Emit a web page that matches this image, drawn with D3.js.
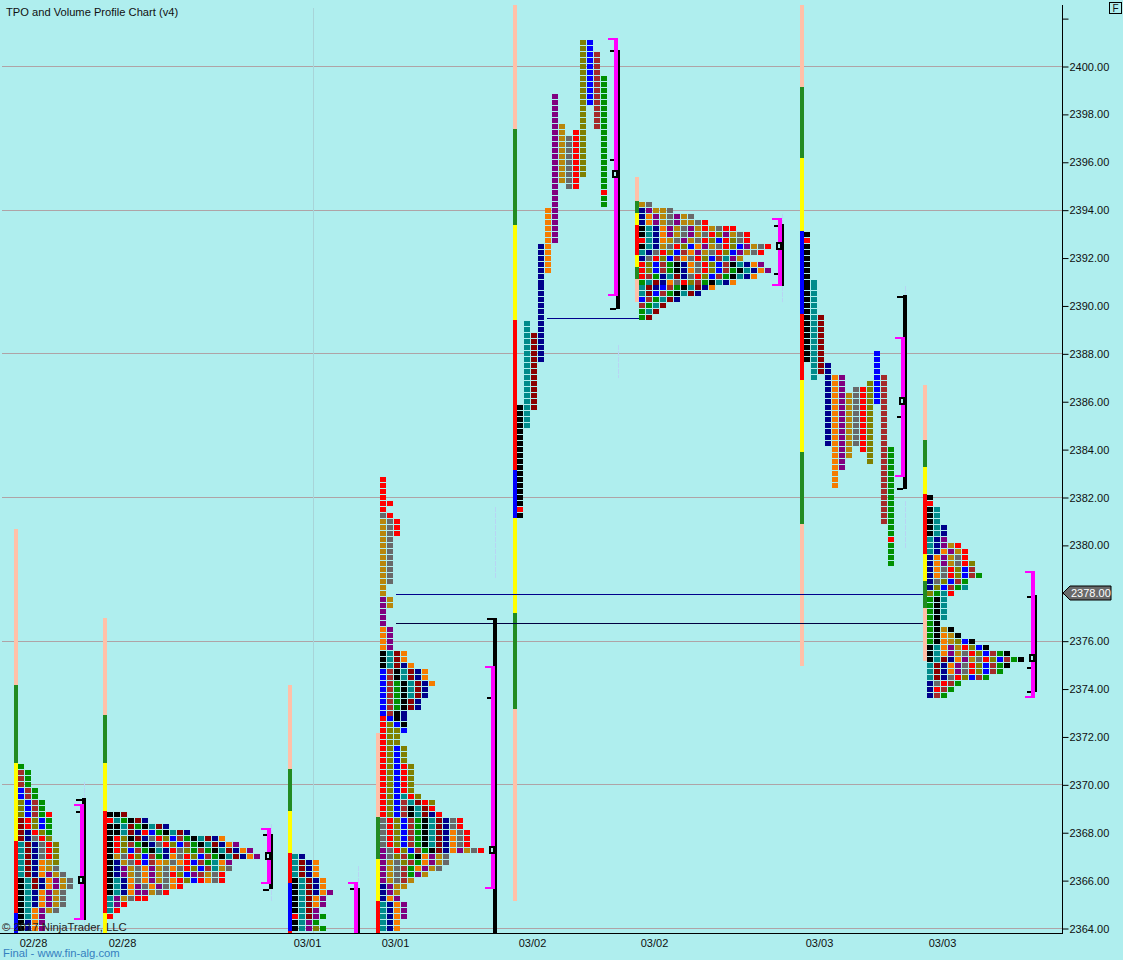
<!DOCTYPE html>
<html><head><meta charset="utf-8">
<script src="https://cdn.jsdelivr.net/npm/d3@7"></script>
<style>html,body{margin:0;padding:0;background:#AFEEEE;overflow:hidden}svg{display:block}text{font-family:"Liberation Sans",Arial,sans-serif}</style>
</head><body><svg id="c" width="1123" height="960"></svg>
<script>
// ---------- DATA ----------
const sessionDates = ["02/28","02/28","03/01","03/01","03/02","03/02","03/03","03/03"];
const sessionBars = [2.571,15.286,41.714,54.286,73.857,91.286,114.857,132.429];
const priceTicks = [2400,2398,2396,2394,2392,2390,2388,2386,2384,2382,2380,2378,2376,2374,2372,2370,2368,2366,2364];
const gridPrices = [2400,2394,2388,2382,2376,2370,2364];
const lastPrice = 2378;

// letter codes -> period colours
const periodColors = {k:"#000000",t:"#008B8B",m:"#8B0000",n:"#00008B",o:"#F57C00",p:"#800080",G:"#B8860B",y:"#696969",r:"#FF0000",O:"#808000",b:"#0000FF",B:"#A52A2A",g:"#009000"};
const barColors = {P:"#FFC0A8",F:"#228B22",Y:"#FFFF00",R:"#FF0000",U:"#0000FF"};

// side bars: colour runs and their price stops
const sideColors = ["PFYRU","PFYRY","PFYRUR","PFYR","PFYRUYFP","PFYRYFP","PFYURYFP","PFYRYFP"];
const sideStops = [
 [2380.68,2374.17,2370.91,2367.65,2364.65,2363.52],
 [2376.97,2372.92,2370.91,2368.91,2364.65,2363.52],
 [2374.17,2370.66,2368.91,2367.15,2365.90,2363.90,2363.52],
 [2372.16,2368.66,2366.90,2365.15,2363.52],
 [2402.57,2397.39,2393.38,2389.41,2383.15,2381.14,2377.18,2373.17,2365.15],
 [2395.39,2394.38,2393.88,2393.38,2392.13,2391.63,2391.13,2390.16],
 [2402.57,2399.14,2396.18,2393.13,2389.66,2386.91,2383.90,2380.89,2374.96],
 [2386.70,2384.40,2383.27,2382.15,2379.64,2378.51,2377.38,2375.17]
];

// stacked profiles: highest price, then one string per 0.25 row
const profile0Top = 2370.75;
const profile0 = ["g","Bg","Bg","Bg","bBg","bBg","ObBg","ObBg","ObBgr","mrObg","mrObg","mnrOg","mnyrO","tmnyrO","tmnyrO","tmnyrO","tmnoGO","tmnoGy","tmnopGy","ktmnopGy","ktmnopGy","ktnopGy","ktnopGy","ktnopGy","ktopGy","ktop","knop","knop"];
const profile1Top = 2368.75;
const profile1 = ["kkm","rtgkmn","kktmgktmn","kktmnrbgktmn","krOkmnyrObBgktmno","krOBgknyrObBgktmnop","krObBgktnryOgBgktmnop","kGyrObBgnoyrObBgktmnop","knGyrbBoGyorbBgtop","knpGyopGyoyrObBtGy","knpGyopGyrObpBGyr","ktnoyopGyorObroyr","ktnopyopyor","ktnoppGyr","tpGyrr","tpr","tr","r"];
const profile2Top = 2367;
const profile2 = ["tn","tmno","tmno","tmno","ktmno","ktmno","ktmnop","ktmop","ktmop","ktmp","rtmpg","ktpg","ktpOg"];
const profile3Top = 2382.75;
const profile3 = ["r","r","r","r","rr","r","yr","Gyr","Gyr","Gyr","Gy","Gy","Gy","Gy","Gy","Gy","Gy","Gy","G","G","pG","pG","p","p","p","op","op","op","op","ktmo","ktmo","ktmno","bBktmno","bBktmno","bBgktmno","bBgktmn","bBgktmn","bBgkmn","bBgkmn","bBkn","rbkn","rObk","rOOb","rOO","rOO","rObO","rObO","rObO","rObrO","rObrO","rObrO","rObrO","rObrO","rObtrO","rObBtmrO","rObBktmr","rObBktmnr","yrObBgktmnyr","yrObBgktmnyr","yrObBgktmnoyr","yrObBgktmnoyr","yrObBgktmnoyr","pyrObBgkmnopGyr","pyOBgkopGy","pGyOBgopGy","pGyBgopGy","pGyBgpG","pGyBG","npGG","npG","nop","tnop","tnop","tnop","tno","tno"];
const profile5Top = 2394.25;
const profile5 = ["Gy","npGGy","nopGypGy","nopGypGGyr","ktnopGypGrGyrr","ktnopGypGyrOpGyr","rtnoGypGyrObrOyr","ktnGyrObopGyrObpGyr","tnyrObBopGyrObpGyr","nyrObBoyrObBtpG","rObBgknoyrObBktnop","rObBgknoyrObBgktnop","rBgntmnyrObBgktno","gtmnoyrOBgktno","tmnbBgktmno","tmbBgktmn","bBgtmn","Bgtm","gtm","gm"];
const profile7Top = 2382;
const profile7 = ["k","r","kt","kt","kt","ktn","ktn","tnp","tnpGr","tnopGr","nopGyr","nopGyrO","noyrObB","noyrObBg","nyObBg","nObBgt","Ogtr","gkt","gkt","gkt","gkt","gk","gkGk","gkoGk","gkoGObk","ktopGrObk","ktopGyrObBgk","ktmnopGyrObBgk","tmnopyrObBgk","tmnopyrObBg","tmnyrObBg","nyrBg","nrBg","nBg"];

// split profiles: one period per column
const splitCodes = ["k","t","m","n","o","p","G","y","r","O","b","B","g"];
const split4High = [2385.75,2389.25,2388.75,2392.5,2394,2398.75,2397.5,2397,2397.25,2401,2401,2400.5,2399.5];
const split4Low  = [2381.25,2385,2385.75,2387.75,2391.5,2392.75,2395.25,2395,2395,2395.5,2398.5,2397.5,2394.25];
const split4Red  = [[0,2381.5],[12,2394.75]];
const split6High = [2393,2391,2389.5,2387.5,2387,2387,2386.25,2386.5,2386.5,2386.75,2388,2387,2384];
const split6Low  = [2387.75,2387,2387.25,2384.25,2382.5,2383.25,2383.75,2384.25,2384,2383.5,2386,2381,2379.25];
const split6Red  = [[0,2392.75],[12,2380.25]];

// session brackets
const bracketBars = [11.429,38.143,50.571,70.143,87.714,111.143,128.714,147.286];
const rangeHigh = [2369.45,2367.94,2365.69,2376.97,2400.69,2393.42,2390.46,2377.93];
const rangeLow  = [2364.36,2365.65,2363.52,2363.52,2389.87,2390.83,2382.36,2373.88];
const vaHigh    = [2369.20,2368.19,2365.94,2374.96,2401.19,2393.67,2388.70,2378.93];
const vaLow     = [2364.36,2365.86,2363.52,2365.65,2390.42,2390.83,2382.86,2373.63];
const pocPrice  = [2366.03,2367.03,null,2367.28,2395.51,2392.50,2386.03,2375.30];
const rangeTicks = [[2369.41,2368.91],[2367.94,2365.65],[2365.69],[2376.97,2373.67],[2400.69,2396.14,2389.91],[2393.38,2391.38],[2390.42,2385.40,2382.40],[2377.89,2374.92,2373.92]];

// faint dashed volume stems: session, high, low
const stemSession = [0,1,2,3,4,5,6,6];
const stemHigh = [2370.12,2368.36,2366.61,2381.60,2388.37,2393.84,2390.83,2381.85];
const stemLow  = [2363.94,2365.15,2363.81,2378.64,2386.99,2390.16,2388.58,2379.89];

// naked POC lines: from bar, to bar, price
const nakedFrom = [78.14,56.57,56.57];
const nakedTo = [91.29,131.86,131.86];
const nakedPrice = [2389.47,2377.94,2376.72];
const nakedColor = ["#00008B","#00008B","#000040"];
const timeMarkerBar = 44.71;

// ---------- SCALES ----------
const svg = d3.select("#c");
const bg = "#AFEEEE";
const plotW = 1062, plotBottom = 933;
const x = d3.scaleLinear().domain([0,151.714]).range([0,plotW]);
const y = d3.scaleLinear().domain([2400,2364]).range([66.5,928.5]);
const px = b => Math.round(x(b));
const snap = p => Math.floor(y(p));

svg.append("rect").attr("width",1123).attr("height",960).attr("fill",bg);
svg.append("defs").append("clipPath").attr("id","plot").append("rect").attr("x",0).attr("y",0).attr("width",plotW).attr("height",plotBottom);
const plot = svg.append("g").attr("clip-path","url(#plot)");

// grid
plot.selectAll(".grid").data(gridPrices).join("rect").attr("class","grid")
  .attr("x",2).attr("width",plotW-2).attr("y",d=>snap(d)).attr("height",1).attr("fill","#AFA3A6");
plot.append("rect").attr("x",px(timeMarkerBar)).attr("y",8).attr("width",1).attr("height",plotBottom-8).attr("fill","#A8D4D8");

// side bars
sessionBars.forEach((b,i)=>{
  const stops = sideStops[i], cols = sideColors[i].split("");
  plot.selectAll(".side"+i).data(cols).join("rect").attr("class","side"+i)
    .attr("x",px(b)-4).attr("width",4)
    .attr("y",(d,j)=>Math.round(y(stops[j])))
    .attr("height",(d,j)=>Math.round(y(stops[j+1]))-Math.round(y(stops[j])))
    .attr("fill",d=>barColors[d]);
});

// TPO cells
function cells(session, list){
  plot.append("g").selectAll("rect").data(list).join("rect")
    .attr("x",d=>px(sessionBars[session])+Math.round(x(d.col)))
    .attr("y",d=>snap(d.price)-2).attr("width",6).attr("height",5)
    .attr("fill",d=>periodColors[d.code]);
}
function fromRows(top,rows){
  const out=[];
  rows.forEach((s,r)=>s.split("").forEach((code,col)=>out.push({col,code,price:top-r*0.25})));
  return out;
}
function fromSplit(high,low,red){
  const out=[];
  splitCodes.forEach((code,col)=>{
    for(let p=high[col];p>=low[col];p-=0.25){
      const isRed=red.some(e=>e[0]===col&&e[1]===p);
      out.push({col,code:isRed?"r":code,price:p});
    }
  });
  return out;
}
cells(0,fromRows(profile0Top,profile0));
cells(1,fromRows(profile1Top,profile1));
cells(2,fromRows(profile2Top,profile2));
cells(3,fromRows(profile3Top,profile3));
cells(4,fromSplit(split4High,split4Low,split4Red));
cells(5,fromRows(profile5Top,profile5));
cells(6,fromSplit(split6High,split6Low,split6Red));
cells(7,fromRows(profile7Top,profile7));

// naked POC
plot.selectAll(".naked").data(nakedPrice).join("rect").attr("class","naked")
  .attr("x",(d,i)=>px(nakedFrom[i])).attr("width",(d,i)=>px(nakedTo[i])-px(nakedFrom[i]))
  .attr("y",d=>snap(d)).attr("height",1).attr("fill",(d,i)=>nakedColor[i]);

// stems
plot.selectAll(".stem").data(stemSession).join("line").attr("class","stem")
  .attr("x1",(d,i)=>px(bracketBars[d])+4.5).attr("x2",(d,i)=>px(bracketBars[d])+4.5)
  .attr("y1",(d,i)=>y(stemHigh[i])).attr("y2",(d,i)=>y(stemLow[i]))
  .attr("stroke","#B8D4F4").attr("stroke-width",1).attr("stroke-dasharray","5 1");

// brackets
bracketBars.forEach((b,i)=>{
  const M=px(b), g=plot.append("g");
  const by0=Math.round(y(rangeHigh[i])), by1=Math.round(y(rangeLow[i]));
  g.append("rect").attr("x",M+2).attr("y",by0).attr("width",4).attr("height",by1-by0).attr("fill","#000");
  g.selectAll(".t").data(rangeTicks[i]).join("rect").attr("class","t")
    .attr("x",M-4).attr("width",6).attr("y",d=>Math.round(y(d))).attr("height",2).attr("fill","#000");
  const vy0=Math.round(y(vaHigh[i])), vy1=Math.round(y(vaLow[i]));
  g.append("rect").attr("x",M).attr("y",vy0).attr("width",4).attr("height",vy1-vy0).attr("fill","#FF00FF");
  g.append("rect").attr("x",M-6).attr("y",vy0).attr("width",6).attr("height",2).attr("fill","#FF00FF");
  g.append("rect").attr("x",M-6).attr("y",vy1-2).attr("width",6).attr("height",2).attr("fill","#FF00FF");
  if(pocPrice[i]!==null){
    const py=Math.round(y(pocPrice[i]));
    g.append("rect").attr("x",M-2).attr("y",py-4).attr("width",8).attr("height",8).attr("fill","#000");
    g.append("rect").attr("x",M).attr("y",py-2).attr("width",2).attr("height",4).attr("fill",bg);
  }
});

// axes
const axisY = d3.axisRight(y).tickValues(priceTicks.concat([2402])).tickSize(6).tickPadding(1)
  .tickFormat(d=>d===2402?"":d3.format(".2f")(d));
const gy = svg.append("g").attr("transform",`translate(${plotW+0.5},0)`).call(axisY);
gy.select(".domain").remove();
gy.selectAll("line").attr("stroke","#000");
gy.selectAll("text").attr("fill","#101010").attr("font-size",11).attr("font-family","Liberation Sans, Arial, sans-serif");
svg.append("rect").attr("x",plotW).attr("y",5).attr("width",1).attr("height",plotBottom-5).attr("fill","#000");
svg.append("rect").attr("x",0).attr("y",plotBottom).attr("width",plotW+1).attr("height",1).attr("fill","#000");

// bottom dates
svg.selectAll(".date").data(sessionDates).join("text").attr("class","date")
  .attr("x",(d,i)=>px(sessionBars[i])+15.5).attr("y",947).attr("text-anchor","middle")
  .attr("font-size",11).attr("fill","#101010").text(d=>d);

// price tag
const tagY=snap(lastPrice);
svg.append("path").attr("d",d3.line()([[1063,tagY],[1070,tagY-7],[1111,tagY-7],[1111,tagY+7],[1070,tagY+7],[1063,tagY]])+"Z")
  .attr("fill","#696969").attr("stroke","#000").attr("stroke-width",1);
svg.append("text").attr("x",1071).attr("y",tagY+4).attr("font-size",11).attr("fill","#fff").text(d3.format(".2f")(lastPrice));

// texts
svg.append("text").attr("x",6).attr("y",16).attr("font-size",11.15).attr("fill","#111").text("TPO and Volume Profile Chart (v4)");
svg.append("text").attr("x",2).attr("y",931).attr("font-size",11.3).attr("fill","#222").text("© 2017 NinjaTrader, LLC");
svg.append("text").attr("x",3).attr("y",957).attr("font-size",11.3).attr("fill","#3580C0").text("Final - www.fin-alg.com");
svg.append("rect").attr("x",1109.5).attr("y",2.5).attr("width",12).attr("height",11).attr("fill","none").attr("stroke","#000");
svg.append("text").attr("x",1115.5).attr("y",12).attr("text-anchor","middle").attr("font-size",10).attr("fill","#111").text("F");
</script></body></html>
